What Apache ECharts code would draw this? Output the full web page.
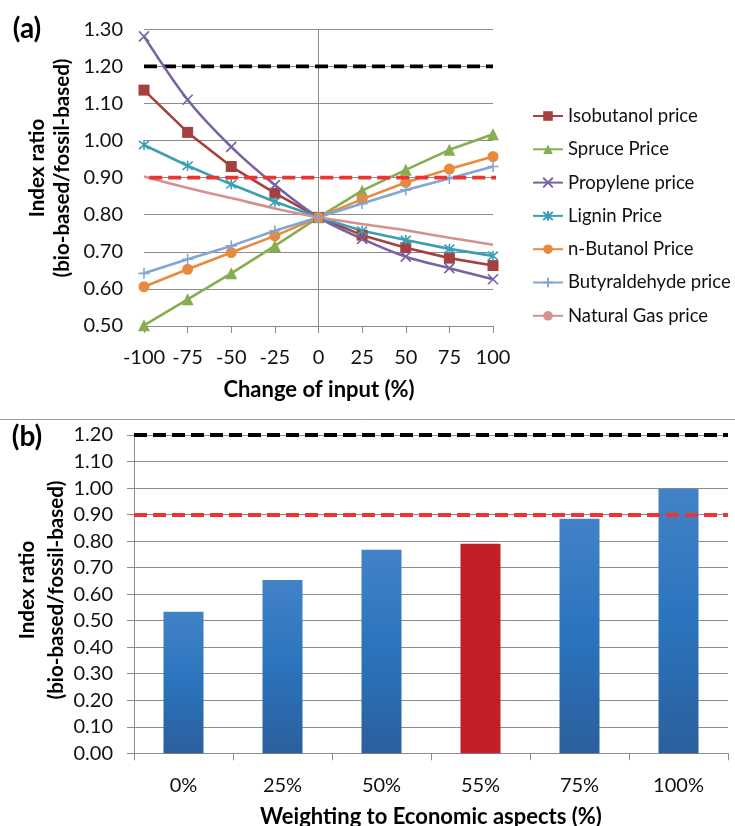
<!DOCTYPE html>
<html>
<head>
<meta charset="utf-8">
<script src="https://cdn.jsdelivr.net/npm/echarts@6/dist/echarts.min.js"></script>
<style>
html,body{margin:0;padding:0;background:#fff;}
#chart{width:735px;height:826px;}
</style>
</head>
<body>
<div id="chart"></div>
<script>
// ---- Panel (a) data ----
const changeOfInput = [-100, -75, -50, -25, 0, 25, 50, 75, 100];
const isobutanolPrice = [1.136, 1.022, 0.930, 0.858, 0.793, 0.745, 0.711, 0.683, 0.663];
const sprucePrice = [0.502, 0.572, 0.642, 0.716, 0.793, 0.865, 0.921, 0.975, 1.017];
const propylenePrice = [1.281, 1.110, 0.983, 0.880, 0.793, 0.735, 0.687, 0.656, 0.626];
const ligninPrice = [0.988, 0.932, 0.882, 0.835, 0.793, 0.757, 0.732, 0.708, 0.689];
const nButanolPrice = [0.606, 0.653, 0.698, 0.743, 0.793, 0.842, 0.887, 0.923, 0.957];
const butyraldehydePrice = [0.642, 0.680, 0.716, 0.757, 0.793, 0.830, 0.867, 0.898, 0.930];
const naturalGasPrice = [0.903, 0.872, 0.845, 0.817, 0.793, 0.775, 0.758, 0.738, 0.719];
const seriesNames = ['Isobutanol price', 'Spruce Price', 'Propylene price', 'Lignin Price', 'n-Butanol Price', 'Butyraldehyde price', 'Natural Gas price'];

// ---- Panel (b) data ----
const weightingCategories = ['0%', '25%', '50%', '55%', '75%', '100%'];
const weightingValues = [0.534, 0.653, 0.767, 0.790, 0.884, 0.997];
const highlightedCategory = '55%';

// ---- Reference thresholds (both panels) ----
const upperThreshold = 1.2;
const lowerThreshold = 0.9;
const aTopYTicks = [0.5, 1.3];
const bYRange = [0, 1.2];

const FONT = 'Lato, "Open Sans", sans-serif';
const GRID = '#8c8c8c';

function pairs(vals) { return changeOfInput.map((x, i) => [x, vals[i]]); }

const X_PATH = 'path://M0,0L10,10M10,0L0,10';
const AST_PATH = 'path://M0,0L10,10M10,0L0,10M5,-1L5,11';
const PLUS_PATH = 'path://M5,0L5,10M0,5L10,5';

function lineSeries(name, vals, color, symbol, size, stroked, smooth) {
  return {
    name: name, type: 'line', xAxisIndex: 0, yAxisIndex: 0,
    data: pairs(vals), smooth: smooth || false,
    symbol: symbol, symbolSize: size, showSymbol: symbol !== 'none',
    color: color,
    lineStyle: { color: color, width: 2.6 },
    itemStyle: stroked ? { color: 'rgba(0,0,0,0)', borderColor: color, borderWidth: 1.6 } : { color: color, borderWidth: 0 },
    z: 3, animation: false
  };
}

const blueGrad = {
  type: 'linear', x: 0, y: 0, x2: 0, y2: 1,
  colorStops: [
    { offset: 0, color: '#4282c7' },
    { offset: 0.5, color: '#2a74bd' },
    { offset: 1, color: '#2c5f9c' }
  ]
};

const chart = echarts.init(document.getElementById('chart'), null, { renderer: 'canvas' });

const option = {
  animation: false,
  backgroundColor: '#ffffff',
  textStyle: { fontFamily: FONT },
  grid: [
    { left: 144, top: 29.3, width: 349, height: 296.7 },
    { left: 134, top: 435, width: 594, height: 318.3 }
  ],
  legend: {
    orient: 'vertical', left: 527, top: 101,
    itemWidth: 30, itemHeight: 12, itemGap: 13.3,
    data: seriesNames,
    textStyle: { fontFamily: FONT, fontSize: 18.5, color: '#111', lineHeight: 20 },
    selectedMode: false
  },
  xAxis: [
    {
      type: 'value', gridIndex: 0, min: -100, max: 100, interval: 25,
      axisLine: { show: true, onZero: false, lineStyle: { color: GRID, width: 1 } },
      axisTick: { show: true, length: 7, lineStyle: { color: GRID } },
      axisLabel: { fontFamily: FONT, fontSize: 20, color: '#111', margin: 22 },
      splitLine: { show: false }
    },
    {
      type: 'category', gridIndex: 1, data: weightingCategories,
      axisLine: { show: true, lineStyle: { color: GRID, width: 1 } },
      axisTick: { show: true, length: 7, lineStyle: { color: GRID } },
      axisLabel: { fontFamily: FONT, fontSize: 20, color: '#111', margin: 22 },
      splitLine: { show: false }
    }
  ],
  yAxis: [
    {
      type: 'value', gridIndex: 0, min: aTopYTicks[0], max: aTopYTicks[1], interval: 0.1,
      axisLine: { show: false }, axisTick: { show: false },
      axisLabel: { fontFamily: FONT, fontSize: 20, color: '#111', margin: 21, formatter: v => v.toFixed(2) },
      splitLine: { show: true, lineStyle: { color: GRID, width: 1 } }
    },
    {
      type: 'value', gridIndex: 1, min: bYRange[0], max: bYRange[1], interval: 0.1,
      axisLine: { show: true, lineStyle: { color: GRID, width: 1 } },
      axisTick: { show: true, length: 7, lineStyle: { color: GRID } },
      axisLabel: { fontFamily: FONT, fontSize: 20, color: '#111', margin: 21, formatter: v => v.toFixed(2) },
      splitLine: { show: true, lineStyle: { color: GRID, width: 1 } }
    }
  ],
  series: [
    // vertical axis line at x = 0 (panel a)
    {
      name: 'zeroAxis', type: 'line', xAxisIndex: 0, yAxisIndex: 0,
      data: [[0, aTopYTicks[0]], [0, aTopYTicks[1]]], symbol: 'none',
      lineStyle: { color: GRID, width: 1 }, z: 1, silent: true
    },
    {
      name: 'upper', type: 'line', xAxisIndex: 0, yAxisIndex: 0,
      data: [[-100, upperThreshold], [100, upperThreshold]], symbol: 'none',
      lineStyle: { color: '#000', width: 3.8, type: [13, 6] }, z: 2, silent: true
    },
    {
      name: 'lower', type: 'line', xAxisIndex: 0, yAxisIndex: 0, clip: false,
      data: [[-97, lowerThreshold], [102, lowerThreshold]], symbol: 'none',
      lineStyle: { color: '#ef3232', width: 3.8, type: [13, 6] }, z: 4, silent: true
    },
    lineSeries(seriesNames[0], isobutanolPrice, '#a6403e', 'rect', 11, false),
    lineSeries(seriesNames[1], sprucePrice, '#86ae50', 'triangle', 12, false),
    lineSeries(seriesNames[2], propylenePrice, '#7862a2', X_PATH, 10, true, 0.3),
    lineSeries(seriesNames[3], ligninPrice, '#3b9fb4', AST_PATH, 10, true),
    lineSeries(seriesNames[4], nButanolPrice, '#e8893c', 'circle', 11, false),
    lineSeries(seriesNames[5], butyraldehydePrice, '#82a5d6', PLUS_PATH, 11, true),
    lineSeries(seriesNames[6], naturalGasPrice, '#d4918f', 'none', 0, false, 0.3),
    // Panel (b)
    {
      name: 'weighting', type: 'bar', xAxisIndex: 1, yAxisIndex: 1,
      barWidth: 40,
      data: weightingValues.map((v, i) => ({
        value: v,
        itemStyle: { color: weightingCategories[i] === highlightedCategory ? '#c22026' : blueGrad }
      })),
      markLine: {
        silent: true, symbol: 'none', animation: false,
        label: { show: false },
        data: [
          { yAxis: upperThreshold, lineStyle: { color: '#000', width: 3.8, type: [13, 6] } },
          { yAxis: lowerThreshold, lineStyle: { color: '#ef3232', width: 3.8, type: [13, 6] } }
        ]
      },
      z: 2
    }
  ],
  graphic: [
    { type: 'text', x: 27, y: 29, style: { text: '(a)', font: 'bold 28px ' + FONT, fill: '#000', textAlign: 'center', textVerticalAlign: 'middle', align: 'center', verticalAlign: 'middle' } },
    { type: 'text', x: 50, y: 168, rotation: Math.PI / 2, style: { text: 'Index ratio\n(bio-based/fossil-based)', font: 'bold 20.5px ' + FONT, lineHeight: 25, fill: '#000', textAlign: 'center', textVerticalAlign: 'middle', align: 'center', verticalAlign: 'middle' } },
    { type: 'text', x: 319, y: 390, style: { text: 'Change of input (%)', font: 'bold 22px ' + FONT, fill: '#000', textAlign: 'center', textVerticalAlign: 'middle', align: 'center', verticalAlign: 'middle' } },
    { type: 'line', shape: { x1: 0, y1: 419.5, x2: 735, y2: 419.5 }, style: { stroke: '#9a9a9a', lineWidth: 1 } },
    { type: 'text', x: 27, y: 437, style: { text: '(b)', font: 'bold 28px ' + FONT, fill: '#000', textAlign: 'center', textVerticalAlign: 'middle', align: 'center', verticalAlign: 'middle' } },
    { type: 'text', x: 42, y: 590, rotation: Math.PI / 2, style: { text: 'Index ratio\n(bio-based/fossil-based)', font: 'bold 20.5px ' + FONT, lineHeight: 29, fill: '#000', textAlign: 'center', textVerticalAlign: 'middle', align: 'center', verticalAlign: 'middle' } },
    { type: 'text', x: 431, y: 817, style: { text: 'Weighting to Economic aspects (%)', font: 'bold 22px ' + FONT, fill: '#000', textAlign: 'center', textVerticalAlign: 'middle', align: 'center', verticalAlign: 'middle' } }
  ]
};
chart.setOption(option);
</script>
</body>
</html>
